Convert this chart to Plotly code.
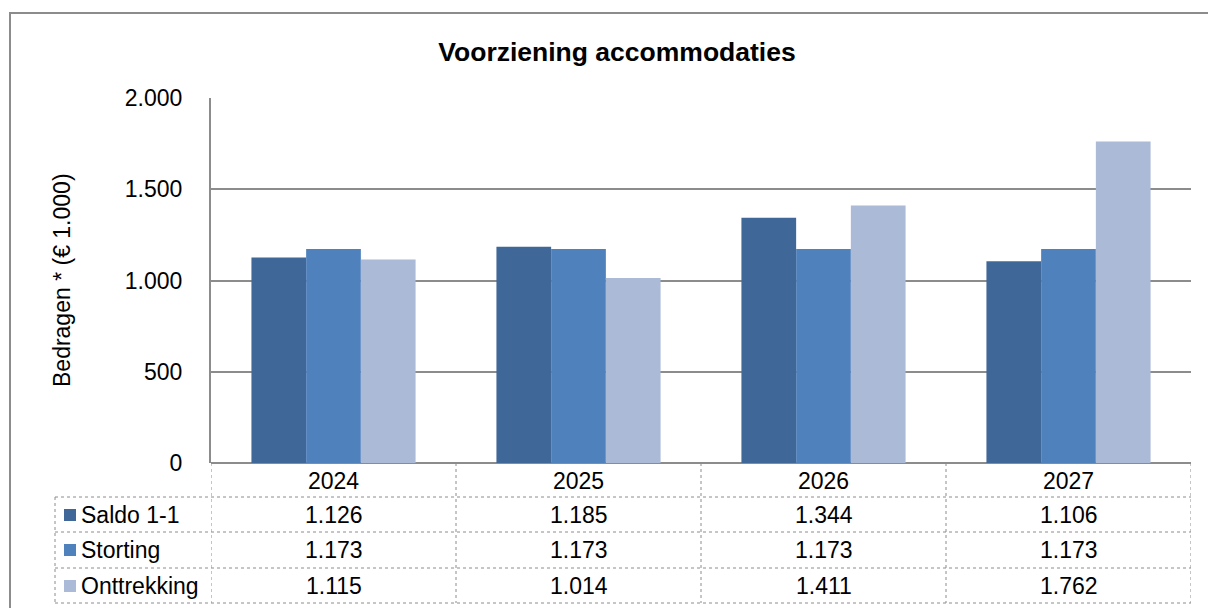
import plotly.graph_objects as go

# data
years = ["2024", "2025", "2026", "2027"]
saldo = [1126, 1185, 1344, 1106]
storting = [1173, 1173, 1173, 1173]
onttrekking = [1115, 1014, 1411, 1762]
series_names = ["Saldo 1-1", "Storting", "Onttrekking"]
y_ticks = [0, 500, 1000, 1500, 2000]

colors = ["#3F6898", "#4F81BD", "#AABAD7"]
FONT = "Liberation Sans, Arial, sans-serif"
FS = 23

# pixel layout of the plot area (window 1208x608)
L, R, T, B = 211, 1191, 98, 463
W, H = 1208, 608
pw, ph = R - L, B - T


def px_x(x):
    return (x - L) / pw


def px_y(y):
    return (B - y) / ph


def fmt(v):
    return f"{v:,}".replace(",", ".")


fig = go.Figure()
for name, vals, c in zip(series_names, [saldo, storting, onttrekking], colors):
    fig.add_trace(go.Bar(x=years, y=vals, name=name, marker_color=c,
                         marker_line_width=0))

shapes = []
annotations = []
grey = "#8C8C8C"

# outer chart border
shapes.append(dict(type="rect", xref="paper", yref="paper",
                   x0=px_x(10), x1=px_x(1215), y0=px_y(620), y1=px_y(13),
                   line=dict(color="#8C8C8C", width=2)))

# data table
row_lines = [497, 532, 568, 603]
for yy in row_lines:
    shapes.append(dict(type="line", xref="paper", yref="paper",
                       x0=px_x(55), x1=1, y0=px_y(yy), y1=px_y(yy),
                       line=dict(color=grey, width=1, dash="dot")))
shapes.append(dict(type="line", xref="paper", yref="paper",
                   x0=px_x(55), x1=px_x(55), y0=px_y(497), y1=px_y(603),
                   line=dict(color=grey, width=1, dash="dot")))
for i in range(len(years) + 1):
    shapes.append(dict(type="line", xref="x", yref="paper",
                       x0=i - 0.5, x1=i - 0.5, y0=0, y1=px_y(603),
                       line=dict(color=grey, width=1, dash="dot")))

row_centers = [515, 550, 586]
for name, vals, c, yc in zip(series_names, [saldo, storting, onttrekking], colors, row_centers):
    shapes.append(dict(type="rect", xref="paper", yref="paper",
                       x0=px_x(64), x1=px_x(76), y0=px_y(yc - 6), y1=px_y(yc + 6),
                       line=dict(width=0), fillcolor=c))
    annotations.append(dict(text=name, xref="paper", yref="paper",
                            x=px_x(79), y=px_y(yc), xanchor="left", yanchor="middle",
                            showarrow=False, font=dict(size=FS, color="black", family=FONT)))
    for i, v in enumerate(vals):
        annotations.append(dict(text=fmt(v), xref="x", yref="paper",
                                x=i, y=px_y(yc), xanchor="center", yanchor="middle",
                                showarrow=False, font=dict(size=FS, color="black", family=FONT)))

# y axis title
annotations.append(dict(text="Bedragen * (€ 1.000)", xref="paper", yref="paper",
                        x=px_x(62), y=px_y(280), textangle=-90,
                        xanchor="center", yanchor="middle", showarrow=False,
                        font=dict(size=FS, color="black", family=FONT)))

fig.update_layout(
    width=W, height=H,
    margin=dict(l=L, r=W - R, t=T, b=H - B, pad=0),
    paper_bgcolor="white", plot_bgcolor="white",
    separators=",.",
    showlegend=False,
    barmode="group", bargap=0.33, bargroupgap=0,
    title=dict(text="<b>Voorziening accommodaties</b>", x=px_x(617), xref="paper",
               y=1 - 52 / H, yanchor="middle", xanchor="center",
               font=dict(size=26.5, color="black", family=FONT)),
    font=dict(family=FONT, size=FS, color="black"),
    shapes=shapes,
    annotations=annotations,
)
fig.update_xaxes(type="category", showgrid=False, showline=False, ticks="",
                 tickfont=dict(size=FS, color="black"), ticklabelstandoff=2,
                 range=[-0.5, 3.5])
fig.update_yaxes(range=[0, 2000], tickvals=y_ticks, tickformat=",d",
                 showgrid=True, gridcolor=grey, gridwidth=2,
                 zeroline=True, zerolinecolor=grey, zerolinewidth=2,
                 showline=True, linecolor=grey, linewidth=2,
                 ticks="", ticklabelstandoff=22,
                 tickfont=dict(size=FS, color="black"))

fig.write_html("out.html", config={"displayModeBar": False},
               post_script="document.body.style.margin='0';")
